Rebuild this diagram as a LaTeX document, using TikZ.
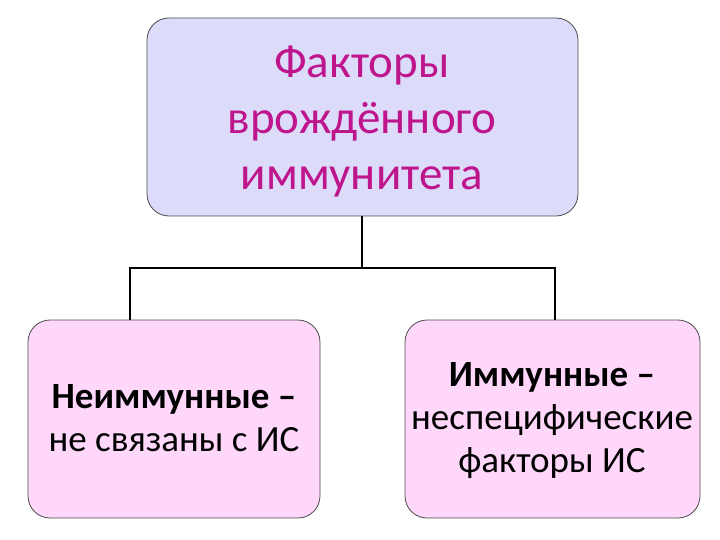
\documentclass[tikz,border=0pt]{standalone}
\usepackage{fontspec}
\setmainfont{Carlito}
\begin{document}
\begin{tikzpicture}[x=1pt,y=-1pt,
 box/.style={draw=black!70,line width=0.8pt,rounded corners=22pt},
 ln/.style={draw=black,line width=1.2pt}]
\useasboundingbox (0,0) rectangle (720,540);
\filldraw[box,fill={rgb,255:red,220;green,220;blue,250}] (147,18) rectangle (578,216);
\filldraw[box,fill={rgb,255:red,255;green,215;blue,250}] (28,320) rectangle (320,518);
\filldraw[box,fill={rgb,255:red,255;green,215;blue,250}] (405,320) rectangle (700,518);
\node[align=center,text={rgb,255:red,190;green,20;blue,140},font=\fontsize{47}{56}\selectfont] (t) at (362,122) {Факторы\\врождённого\\иммунитета};
\node[align=center,font=\fontsize{37}{43}\selectfont] (l) at (174,418) {\textbf{Неиммунные –}\\не связаны с ИС};
\node[align=center,font=\fontsize{37}{43}\selectfont] (r) at (552,421) {\textbf{Иммунные –}\\неспецифические\\факторы ИС};
\coordinate (a) at (362,216); \coordinate (b) at (362,268);
\coordinate (c) at (130,268); \coordinate (d) at (555,268);
\coordinate (e) at (130,320); \coordinate (f) at (555,320);
\draw[ln] (a)--(b) (e)--(c)--(d)--(f);
\end{tikzpicture}
\end{document}
